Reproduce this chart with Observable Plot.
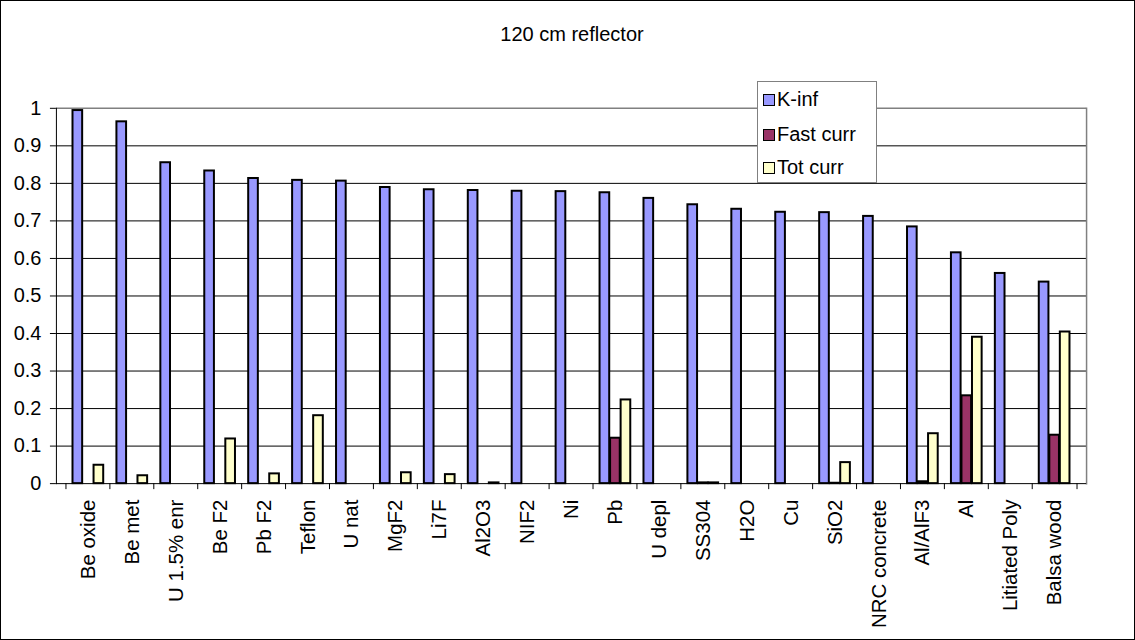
<!DOCTYPE html>
<html>
<head>
<meta charset="utf-8">
<script src="https://cdn.jsdelivr.net/npm/d3@7"></script>
<script src="https://cdn.jsdelivr.net/npm/@observablehq/plot@0.6"></script>
<style>
  html, body { margin: 0; padding: 0; background: #fff; }
  #chart { position: relative; width: 1135px; height: 640px; box-sizing: border-box; border: 1px solid #000; overflow: hidden; font-family: "Liberation Sans", Arial, sans-serif; }
  #chart svg { position: absolute; left: -1px; top: -1px; }
  #title { position: absolute; left: 0; width: 1142px; top: 22px; text-align: center; font-size: 20px; color: #000; }
  #legend { position: absolute; left: 756px; top: 80px; width: 120px; height: 102px; border: 1px solid #808080; background: #fff; box-sizing: border-box; font-size: 20px; }
  .item { position: absolute; left: 5px; height: 22px; line-height: 22px; white-space: nowrap; }
  .sw { display: inline-block; width: 10px; height: 10px; border: 1.6px solid #000; margin-right: 2px; vertical-align: 0px; }
</style>
</head>
<body>
<div id="chart">
  <div id="title">120 cm reflector</div>
</div>
<script>
const categories = ["Be oxide","Be met","U 1.5% enr","Be F2","Pb F2","Teflon","U nat","MgF2","Li7F","Al2O3","NIF2","Ni","Pb","U depl","SS304","H2O","Cu","SiO2","NRC concrete","Al/AlF3","Al","Litiated Poly","Balsa wood"];
const kInf     = [0.994,0.964,0.855,0.833,0.813,0.808,0.806,0.789,0.783,0.781,0.779,0.778,0.775,0.760,0.743,0.731,0.723,0.722,0.712,0.684,0.615,0.560,0.537];
const fastCurr = [0,0,0,0,0,0,0,0,0,0,0,0,0.121,0,0.002,0,0,0.001,0,0.005,0.234,0,0.129];
const totCurr  = [0.049,0.021,0,0.119,0.026,0.181,0,0.029,0.024,0.002,0,0,0.223,0,0.002,0,0,0.056,0,0.133,0.390,0,0.404];
const seriesNames = ["K-inf","Fast curr","Tot curr"];
const seriesColors = ["#9999FF","#993366","#FFFFCC"];
const yTicks = [0,0.1,0.2,0.3,0.4,0.5,0.6,0.7,0.8,0.9,1];

const W = 1135, H = 640, ML = 56, MR = 47, MT = 108, MB = 156;
const bw = (W - ML - MR) / categories.length;
const barW = bw * 0.235;
const off = (bw - 3 * barW) / 2;

const seriesValues = [kInf, fastCurr, totCurr];
const barMarks = seriesValues.map((vals, s) => {
  const rows = categories.map((c, i) => ({cat: c, value: vals[i]})).filter(d => d.value > 0);
  return Plot.barY(rows, {
    x: "cat", y: "value",
    fill: seriesColors[s], stroke: "#000", strokeWidth: 2,
    insetLeft: off + s * barW,
    insetRight: bw - off - (s + 1) * barW
  });
});

const plot = Plot.plot({
  width: W, height: H,
  marginLeft: ML, marginRight: MR, marginTop: MT, marginBottom: MB,
  style: {fontFamily: "'Liberation Sans', Arial, sans-serif", fontSize: "20px", background: "transparent", color: "#000"},
  x: {type: "band", domain: categories, padding: 0, label: null},
  y: {domain: [0, 1], label: null},
  marks: [
    Plot.ruleY(yTicks.filter(t => t > 0 && t < 1), {stroke: "#000", strokeWidth: 1}),
    Plot.ruleY([1], {stroke: "#808080", strokeWidth: 1.5}),
    Plot.frame({anchor: "right", stroke: "#808080", strokeWidth: 1.5}),
    ...barMarks,
    Plot.frame({anchor: "left", stroke: "#000", strokeWidth: 1}),
    Plot.ruleY([0], {stroke: "#000", strokeWidth: 1}),
    Plot.axisY({ticks: yTicks, tickSize: 6, tickPadding: 9, tickFormat: d => String(+d.toFixed(1)), label: null}),
    Plot.axisX({tickSize: 0, tickRotate: -90, tickPadding: 16, label: null, fontSize: 20.5}),
    Plot.axisX({tickSize: 6, tickFormat: () => "", dx: -bw / 2, label: null}),
    Plot.axisX({ticks: [categories[categories.length - 1]], tickSize: 6, tickFormat: () => "", dx: bw / 2, label: null})
  ]
});
const chart = document.getElementById("chart");
chart.appendChild(plot);

const legend = document.createElement("div");
legend.id = "legend";
const tops = [6, 41, 74];
seriesNames.forEach((name, i) => {
  const item = document.createElement("div");
  item.className = "item";
  item.style.top = tops[i] + "px";
  const sw = document.createElement("span");
  sw.className = "sw";
  sw.style.background = seriesColors[i];
  item.appendChild(sw);
  item.appendChild(document.createTextNode(name));
  legend.appendChild(item);
});
chart.appendChild(legend);
</script>
</body>
</html>
